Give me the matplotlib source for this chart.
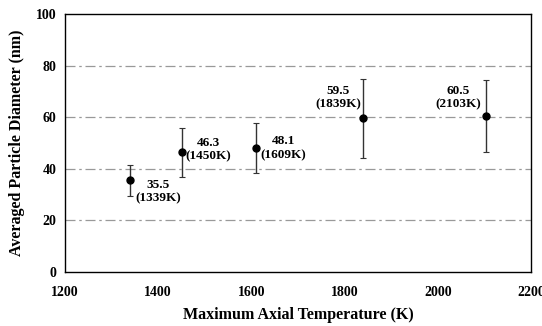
import matplotlib
matplotlib.use("Agg")
import matplotlib.pyplot as plt

temps = [1339, 1450, 1609, 1839, 2103]
diam = [35.5, 46.3, 48.1, 59.5, 60.5]
err = [6.0, 9.4, 9.6, 15.3, 14.0]
labels = ["35.5\n(1339K)", "46.3\n(1450K)", "48.1\n(1609K)", "59.5\n(1839K)", "60.5\n(2103K)"]
label_pos = [(1400, 31), (1507, 47.5), (1668, 48), (1786, 67.5), (2043, 67.5)]

plt.rcParams['font.family'] = ['Liberation Serif', 'DejaVu Serif']
plt.rcParams['font.weight'] = 'bold'

fig = plt.figure(figsize=(5.42, 3.26), dpi=100)
ax = fig.add_axes([0.12, 0.166, 0.86, 0.791])

for y in [20, 40, 60, 80]:
    ax.axhline(y, color='#999999', lw=0.9, ls=(0, (8, 3, 2, 3)), zorder=0)

ax.errorbar(temps, diam, yerr=err, fmt='o', color='black', ms=5,
            ecolor='#333333', elinewidth=1.0, capsize=2.5, capthick=0.8)

for (x, y), t in zip(label_pos, labels):
    ax.text(x, y, t, ha='center', va='center', fontsize=9.5, fontweight='bold',
            linespacing=1.15)

ax.set_xlim(1200, 2200)
ax.set_ylim(0, 100)
ax.set_xticks([1200, 1400, 1600, 1800, 2000, 2200])
ax.set_yticks([0, 20, 40, 60, 80, 100])
ax.tick_params(length=0, labelsize=10, pad=10)
for lab in ax.get_xticklabels() + ax.get_yticklabels():
    lab.set_fontweight('bold')
ax.tick_params(axis='y', pad=6)

for s in ax.spines.values():
    s.set_linewidth(1.0)

ax.set_xlabel('Maximum Axial Temperature (K)', fontsize=11.5, fontweight='bold', labelpad=6)
ax.set_ylabel('Averaged Particle Diameter (nm)', fontsize=11.5, fontweight='bold', labelpad=8)

fig.savefig('out.png', dpi=100)
